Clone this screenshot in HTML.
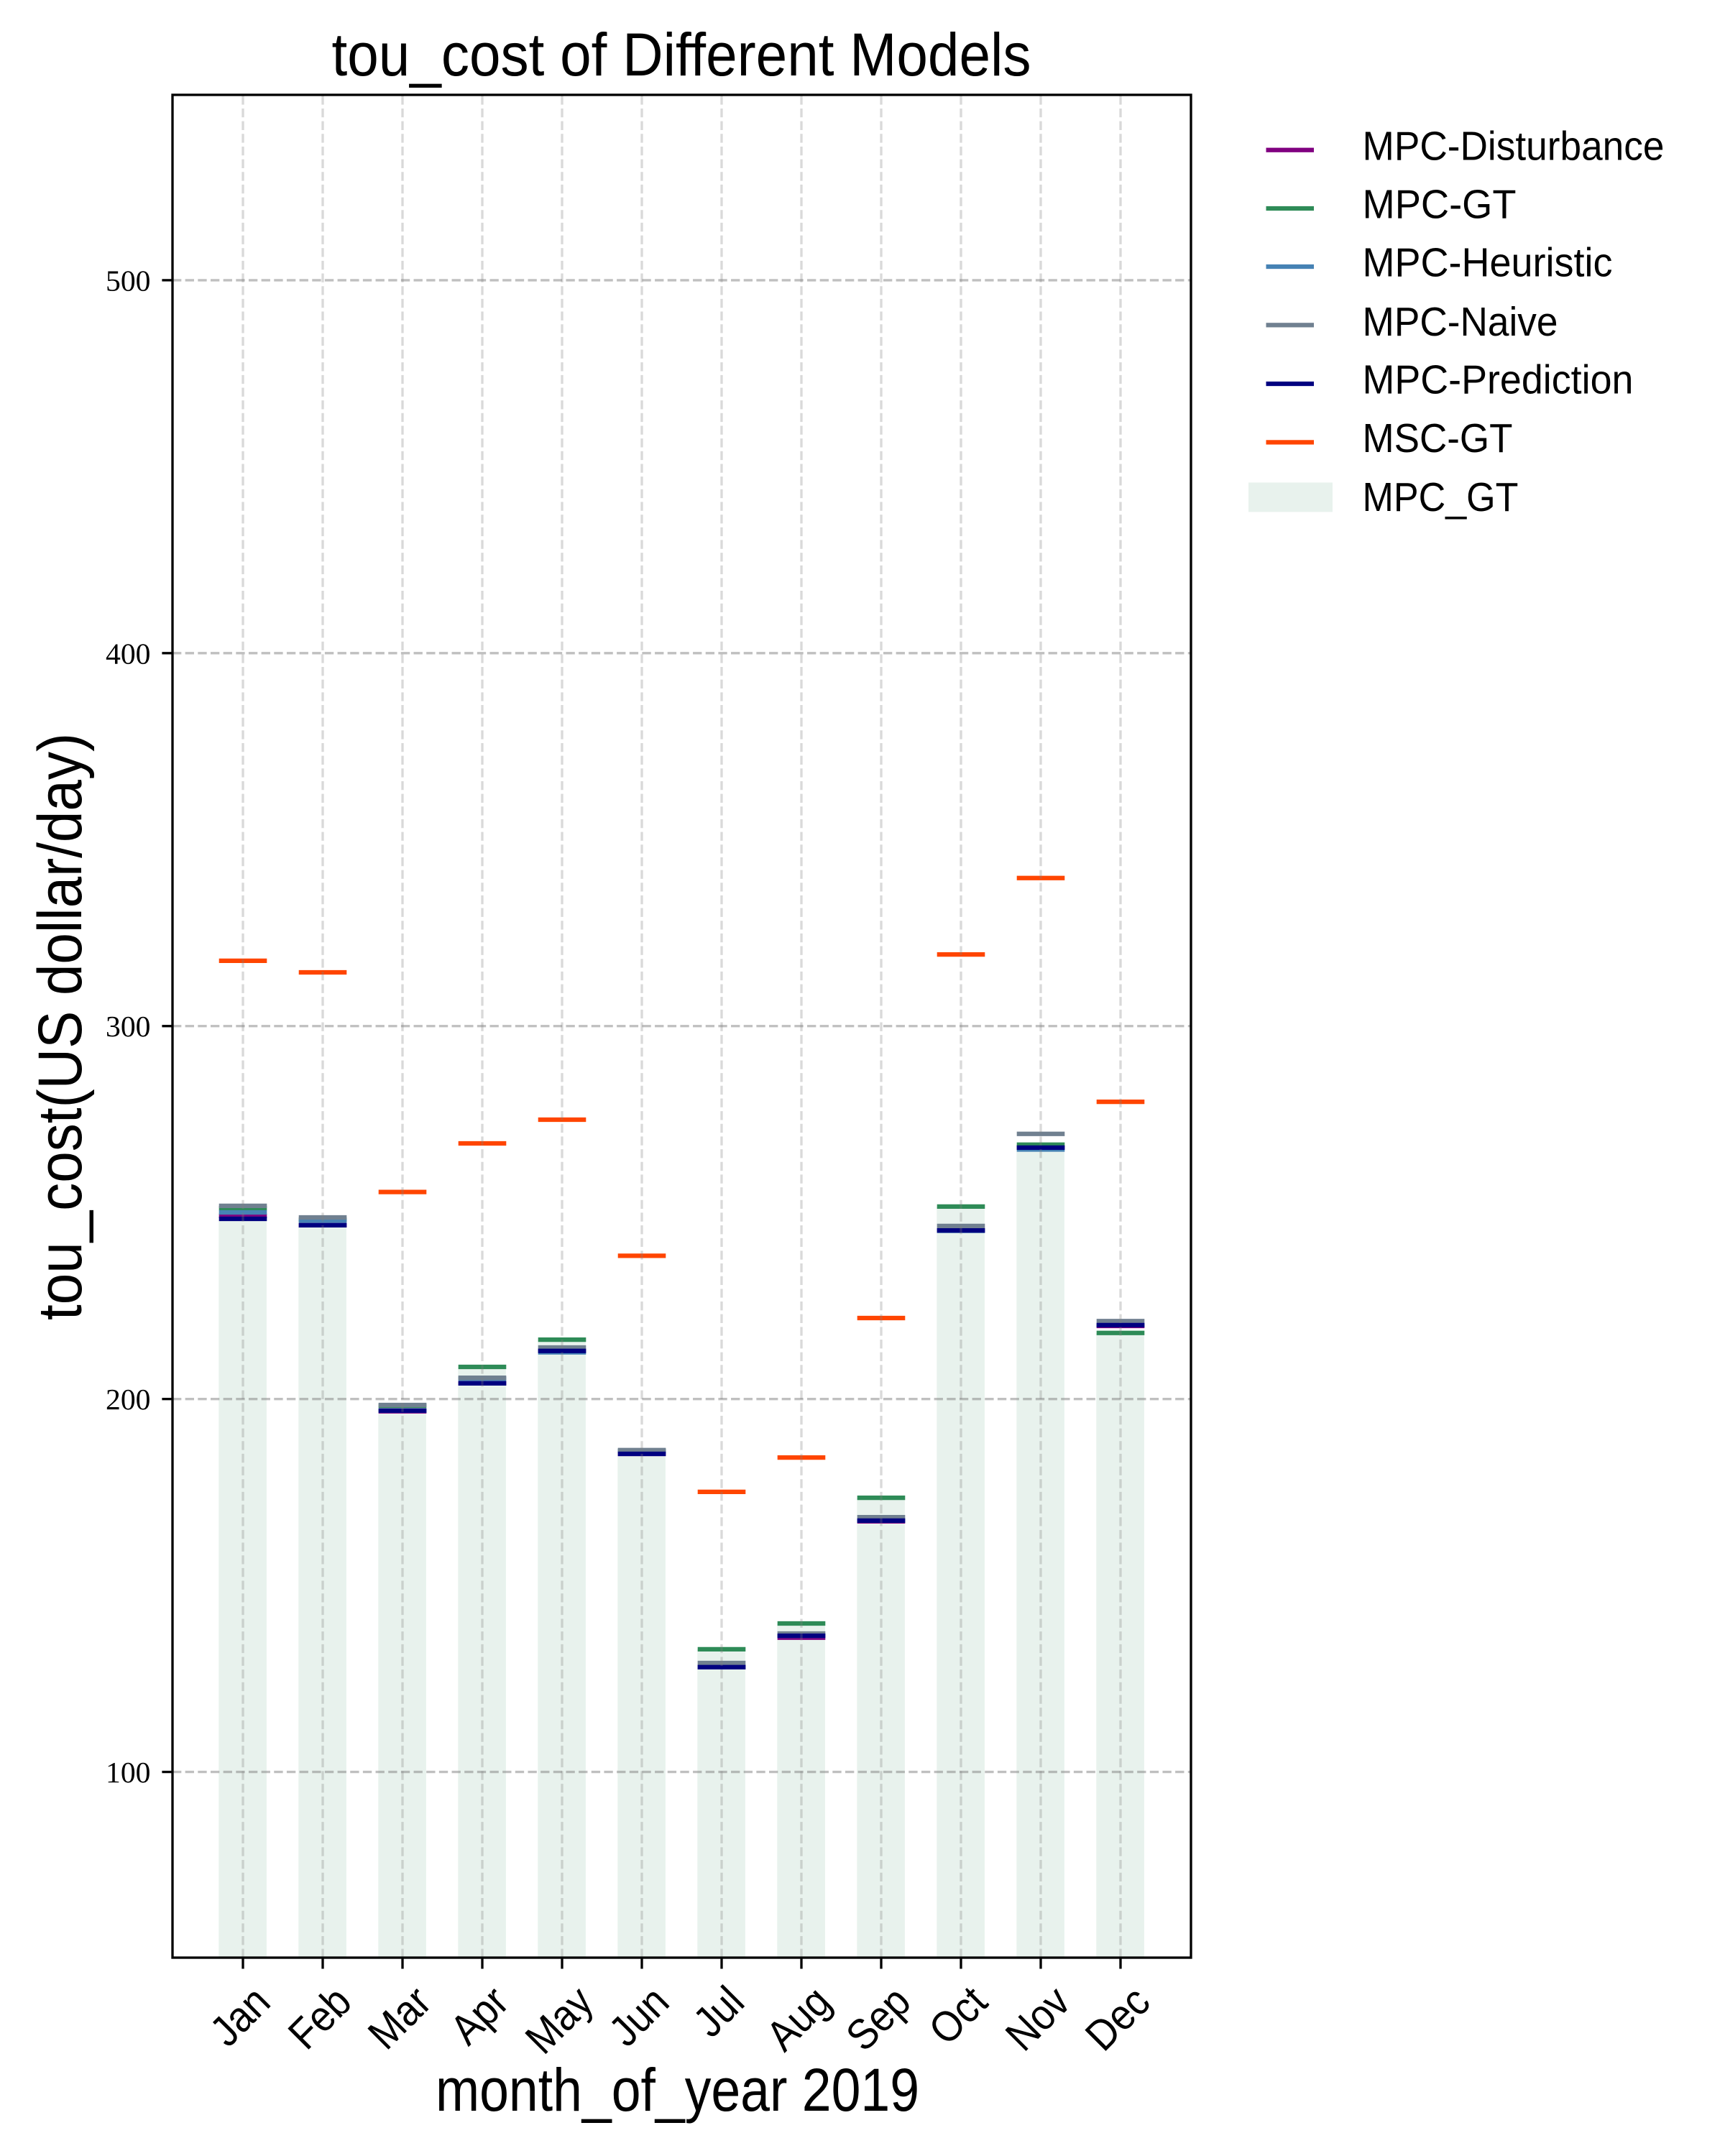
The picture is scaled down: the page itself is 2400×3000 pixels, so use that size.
<!DOCTYPE html>
<html lang="en">
<head>
<meta charset="utf-8">
<title>tou_cost of Different Models</title>
<style>
html,body{margin:0;padding:0;background:#fff;}
svg{display:block;}
text{fill:#000;font-family:"Liberation Sans",sans-serif;}
.num{font-family:"Liberation Serif",serif;font-size:41.67px;}
.leg{font-size:57px;}
</style>
</head>
<body>
<svg id="chart" xmlns="http://www.w3.org/2000/svg" width="2400" height="3000" viewBox="0 0 2400 3000">
  <rect x="0" y="0" width="2400" height="3000" fill="#ffffff"/>
  <g id="bars"></g>
  <g id="lines"></g>
  <g id="grid"></g>
  <g id="ticks"></g>
  <rect x="240" y="132" width="1417" height="2592" fill="none" stroke="#000" stroke-width="3.33"/>

  <text x="461.5" y="105" font-size="84" textLength="973" lengthAdjust="spacingAndGlyphs">tou_cost of Different Models</text>
  <text x="606" y="2937" font-size="84" textLength="673" lengthAdjust="spacingAndGlyphs">month_of_year 2019</text>
  <text transform="translate(113,1837) rotate(-90)" x="0" y="0" font-size="86" textLength="817" lengthAdjust="spacingAndGlyphs">tou_cost(US dollar/day)</text>

  <g>
    <g>
      <rect x="1761.5" y="205.6" width="66.5" height="6.25" fill="#800080"/>
      <text class="leg" x="1895.5" y="222.4" textLength="420" lengthAdjust="spacingAndGlyphs">MPC-Disturbance</text>
    </g>
    <g>
      <rect x="1761.5" y="286.9" width="66.5" height="6.25" fill="#2e8b57"/>
      <text class="leg" x="1895.5" y="303.4" textLength="214" lengthAdjust="spacingAndGlyphs">MPC-GT</text>
    </g>
    <g>
      <rect x="1761.5" y="367.9" width="66.5" height="6.25" fill="#4682b4"/>
      <text class="leg" x="1895.5" y="384.4" textLength="348" lengthAdjust="spacingAndGlyphs">MPC-Heuristic</text>
    </g>
    <g>
      <rect x="1761.5" y="449.2" width="66.5" height="6.25" fill="#708090"/>
      <text class="leg" x="1895.5" y="467" textLength="272" lengthAdjust="spacingAndGlyphs">MPC-Naive</text>
    </g>
    <g>
      <rect x="1761.5" y="530.9" width="66.5" height="6.25" fill="#000080"/>
      <text class="leg" x="1895.5" y="547.5" textLength="377" lengthAdjust="spacingAndGlyphs">MPC-Prediction</text>
    </g>
    <g>
      <rect x="1761.5" y="612.3" width="66.5" height="6.25" fill="#ff4500"/>
      <text class="leg" x="1895.5" y="629" textLength="209" lengthAdjust="spacingAndGlyphs">MSC-GT</text>
    </g>
    <g>
      <rect x="1737" y="671.4" width="117" height="41" fill="#2e8b57" fill-opacity="0.11"/>
      <text class="leg" x="1895.5" y="711" textLength="217" lengthAdjust="spacingAndGlyphs">MPC_GT</text>
    </g>
  </g>
</svg>
<script>
const months = ['Jan','Feb','Mar','Apr','May','Jun','Jul','Aug','Sep','Oct','Nov','Dec'];
const yTickValues = [100,200,300,400,500];
const barMpcGt = [251.2,248.1,198.2,208.6,215.9,186.1,132.9,139.8,173.5,251.6,268.2,217.7];
const mpcDisturbance = [249.1,246.6,196.7,204.2,212.9,185.3,128.1,136.0,167.2,245.2,267.4,219.6];
const mpcGt = [251.2,248.1,198.2,208.6,215.9,186.1,132.9,139.8,173.5,251.6,268.2,217.7];
const mpcHeuristic = [250.05,247.8,196.9,205.4,212.5,186.0,128.1,136.5,167.4,245.1,266.9,219.8];
const mpcNaive = [251.8,248.7,198.4,205.7,213.8,186.3,129.2,137.1,168.3,246.4,271.1,220.9];
const mpcPrediction = [248.3,246.6,196.9,204.2,212.9,185.3,128.1,136.5,167.4,245.2,267.4,219.8];
const mscGt = [317.5,314.4,255.5,268.55,274.9,238.4,175.1,184.3,221.7,319.2,339.7,279.7];

const NS = 'http://www.w3.org/2000/svg';
const plot = {left:240, right:1657, top:132, bottom:2724};
const yDomain = [50.2, 549.7];
const xDomain = [-0.883, 11.883];
const barHalfWidth = 0.3;

function xScale(i){
  return plot.left + (i - xDomain[0]) / (xDomain[1] - xDomain[0]) * (plot.right - plot.left);
}
function yScale(v){
  return plot.bottom - (v - yDomain[0]) / (yDomain[1] - yDomain[0]) * (plot.bottom - plot.top);
}
function make(tag, parent, attrs){
  const el = document.createElementNS(NS, tag);
  for (const k in attrs) el.setAttribute(k, attrs[k]);
  parent.appendChild(el);
  return el;
}

const barsG = document.getElementById('bars');
const linesG = document.getElementById('lines');
const gridG = document.getElementById('grid');
const ticksG = document.getElementById('ticks');
const chart = document.getElementById('chart');

barMpcGt.forEach(function(v, i){
  const x0 = xScale(i - barHalfWidth) - 0.4;
  const x1 = xScale(i + barHalfWidth) - 0.4;
  const el = make('rect', barsG, {x:x0, y:yScale(v), width:x1 - x0, height:plot.bottom - yScale(v), fill:'#2e8b57', 'fill-opacity':0.11});
  
  
});

function drawSeries(values, color, slug){
  values.forEach(function(v, i){
    const el = make('line', linesG, {x1:xScale(i - barHalfWidth), x2:xScale(i + barHalfWidth), y1:yScale(v), y2:yScale(v), stroke:color, 'stroke-width':6.25});
    
    
  });
}
drawSeries(mpcDisturbance, '#800080', 'line-mpc-disturbance');
drawSeries(mpcGt, '#2e8b57', 'line-mpc-gt');
drawSeries(mpcHeuristic, '#4682b4', 'line-mpc-heuristic');
drawSeries(mpcNaive, '#708090', 'line-mpc-naive');
drawSeries(mpcPrediction, '#000080', 'line-mpc-prediction');
drawSeries(mscGt, '#ff4500', 'line-msc-gt');

months.forEach(function(m, i){
  const x = xScale(i);
  const grid = make('line', gridG, {x1:x, x2:x, y1:plot.bottom, y2:plot.top, stroke:'#808080', 'stroke-opacity':0.3, 'stroke-width':3.33, 'stroke-dasharray':'12.33 5.33'});
  
  
  const tick = make('line', ticksG, {x1:x, x2:x, y1:plot.bottom, y2:plot.bottom + 15.5, stroke:'#000', 'stroke-width':3.33});
  
  

  const fs = 60, sx = 0.9, top = 2759, boxH = 42, shift = -5;
  const label = make('text', chart, {x:0, y:fs * 0.36, 'text-anchor':'middle', 'font-size':fs});
  label.textContent = m;
  
  
  const len = label.getComputedTextLength() * sx;
  const cy = top + (len + boxH) * 0.7071 / 2;
  label.setAttribute('transform', 'translate(' + (x + shift) + ',' + cy + ') rotate(-45) scale(' + sx + ',1)');
});

yTickValues.forEach(function(v){
  const y = yScale(v);
  const grid = make('line', gridG, {x1:plot.left, x2:plot.right, y1:y, y2:y, stroke:'#808080', 'stroke-opacity':0.5, 'stroke-width':3.33, 'stroke-dasharray':'12.33 5.33'});
  
  
  const tick = make('line', ticksG, {x1:plot.left - 14.6, x2:plot.left, y1:y, y2:y, stroke:'#000', 'stroke-width':3.33});
  
  
  const label = make('text', chart, {x:209.5, y:y + 14.5, 'text-anchor':'end', class:'num'});
  label.textContent = String(v);
  
  
});
</script>
</body>
</html>
